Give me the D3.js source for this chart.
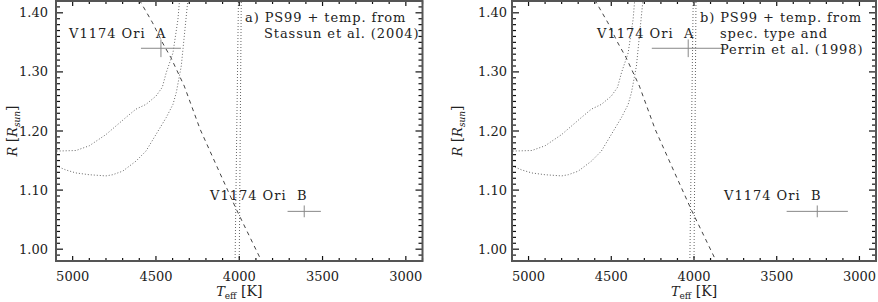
<!DOCTYPE html>
<html><head><meta charset="utf-8">
<script src="https://cdn.jsdelivr.net/npm/d3@7"></script>
<style>
body{margin:0;background:#fff;}
text{font-family:"DejaVu Serif",serif;fill:#222;}
</style></head>
<body><svg id="c" width="878" height="302"></svg>
<script>
// ---- data ----
const xMajorTicks = [5000, 4500, 4000, 3500, 3000];
const yMajorTicks = [1.00, 1.10, 1.20, 1.30, 1.40];
// dotted isochrone-like curves [Teff, R]
const curveUpper = [[5150,1.166],[5100,1.166],[4980,1.167],[4900,1.175],[4800,1.194],[4680,1.223],[4620,1.237],[4560,1.245],[4500,1.259],[4462,1.274],[4438,1.299],[4398,1.332],[4368,1.389],[4358,1.423]];
const curveLower = [[5150,1.146],[5100,1.141],[5040,1.134],[4980,1.129],[4900,1.126],[4800,1.124],[4760,1.126],[4700,1.132],[4620,1.149],[4560,1.166],[4500,1.194],[4438,1.223],[4398,1.245],[4378,1.265],[4348,1.310],[4328,1.366],[4308,1.423]];
const vertLine1 = [[4025,0.98],[4005,1.42]];
const vertLine2 = [[4000,0.98],[3988,1.42]];
// dashed line [Teff, R]
const dashedLine = [[4600,1.422],[4520,1.383],[4460,1.349],[4410,1.324],[4330,1.276],[4235,1.203],[4115,1.128],[4015,1.066],[3875,0.985],[3868,0.98]];
// stars: [Teff, R, dTeff, dR]
const starsA = [[4470,1.340,120,0.015],[3610,1.064,100,0.010]];
const starsB = [[4035,1.340,220,0.015],[3255,1.064,185,0.010]];
const starNames = ["V1174 Ori  A","V1174 Ori  B"];
const notesA = ["a) PS99 + temp. from","Stassun et al. (2004)"];
const notesB = ["b) PS99 + temp. from","spec. type and","Perrin et al. (1998)"];

// ---- layout ----
const svg = d3.select("#c");
const panels = [
  {x0:56, x1:422.5, stars:starsA, notes:notesA, noteX:[245,264], labelGap:8, yLabX:12,
   nameX:[[69,37.7],[210,200]]},
  {x0:512, x1:876, stars:starsB, notes:notesB, noteX:[700,720,720], labelGap:5, yLabX:457,
   nameX:[[597,37.7],[724,200]]}
];
const yTop = 1, yBot = 261;

panels.forEach((p, pi) => {
  const x = d3.scaleLinear().domain([5100, 2900]).range([p.x0, p.x1]);
  const y = d3.scaleLinear().domain([0.98, 1.42]).range([yBot, yTop]);
  const g = svg.append("g");
  const clipId = "clip" + pi;
  svg.append("clipPath").attr("id", clipId).append("rect")
    .attr("x", p.x0).attr("y", yTop).attr("width", p.x1 - p.x0).attr("height", yBot - yTop);
  const plot = g.append("g").attr("clip-path", `url(#${clipId})`);
  const line = d3.line().x(d => x(d[0])).y(d => y(d[1]));

  [curveUpper, curveLower, vertLine1, vertLine2].forEach(c => {
    plot.append("path").attr("d", line(c)).attr("fill", "none")
      .attr("stroke", "#666").attr("stroke-width", 1).attr("stroke-dasharray", "1,2");
  });
  plot.append("path").attr("d", line(dashedLine)).attr("fill", "none")
    .attr("stroke", "#444").attr("stroke-width", 1).attr("stroke-dasharray", "4,4");

  p.stars.forEach(s => {
    plot.append("line").attr("x1", x(s[0] + s[2])).attr("x2", x(s[0] - s[2]))
      .attr("y1", y(s[1])).attr("y2", y(s[1])).attr("stroke", "#888").attr("stroke-width", 1);
    plot.append("line").attr("x1", x(s[0])).attr("x2", x(s[0]))
      .attr("y1", y(s[1] - s[3])).attr("y2", y(s[1] + s[3])).attr("stroke", "#888").attr("stroke-width", 1);
  });

  // ticks
  const xMinor = d3.range(2900, 5101, 100);
  const yMinor = d3.range(98, 143, 1).map(v => v / 100);
  const tk = g.append("g").attr("stroke", "#111").attr("stroke-width", 1.2);
  xMinor.forEach(v => {
    const major = xMajorTicks.includes(v);
    const L = major ? 5 : 3;
    tk.append("line").attr("x1", x(v)).attr("x2", x(v)).attr("y1", yBot).attr("y2", yBot - L);
    tk.append("line").attr("x1", x(v)).attr("x2", x(v)).attr("y1", yTop).attr("y2", yTop + L);
  });
  yMinor.forEach(v => {
    const major = yMajorTicks.some(m => Math.abs(m - v) < 1e-6);
    const L = major ? 7 : 4;
    tk.append("line").attr("y1", y(v)).attr("y2", y(v)).attr("x1", p.x0).attr("x2", p.x0 + L);
    tk.append("line").attr("y1", y(v)).attr("y2", y(v)).attr("x1", p.x1).attr("x2", p.x1 - L);
  });
  // frame
  g.append("rect").attr("x", p.x0).attr("y", yTop).attr("width", p.x1 - p.x0).attr("height", yBot - yTop)
    .attr("fill", "none").attr("stroke", "#555").attr("stroke-width", 2);

  // tick labels
  xMajorTicks.forEach(v => {
    g.append("text").attr("x", x(v)).attr("y", 281).attr("text-anchor", "middle")
      .attr("font-size", 13).text(v);
  });
  yMajorTicks.forEach(v => {
    g.append("text").attr("x", p.x0 - p.labelGap).attr("y", y(v)).attr("dy", "0.35em")
      .attr("text-anchor", "end").attr("font-size", 13).text(v.toFixed(2));
  });

  // axis titles
  const xt = g.append("text").attr("x", (p.x0 + p.x1) / 2).attr("y", 296).attr("text-anchor", "middle").attr("font-size", 13);
  xt.append("tspan").attr("font-style", "italic").text("T");
  xt.append("tspan").attr("font-size", 9).attr("dy", 3).text("eff");
  xt.append("tspan").attr("dy", -3).attr("font-size", 14).text(" [K]");
  const yt = g.append("text").attr("transform", `translate(${p.yLabX},131) rotate(-90)`)
    .attr("text-anchor", "middle").attr("dy", "0.35em").attr("font-size", 13);
  yt.append("tspan").attr("font-style", "italic").text("R");
  yt.append("tspan").attr("font-size", 14).text(" [");
  yt.append("tspan").attr("font-style", "italic").text("R");
  yt.append("tspan").attr("font-style", "italic").attr("font-size", 9).attr("dy", 3).text("sun");
  yt.append("tspan").attr("font-size", 14).attr("dy", -3).text("]");

  // star names
  starNames.forEach((n, i) => {
    g.append("text").attr("x", p.nameX[i][0]).attr("y", p.nameX[i][1]).attr("font-size", 13)
      .attr("letter-spacing", 1.0).style("white-space", "pre").text(n);
  });
  // notes
  p.notes.forEach((n, i) => {
    g.append("text").attr("x", p.noteX[i]).attr("y", 21.7 + i * 16).attr("font-size", 13)
      .attr("letter-spacing", 0.9).style("white-space", "pre").text(n);
  });
});
</script></body></html>
